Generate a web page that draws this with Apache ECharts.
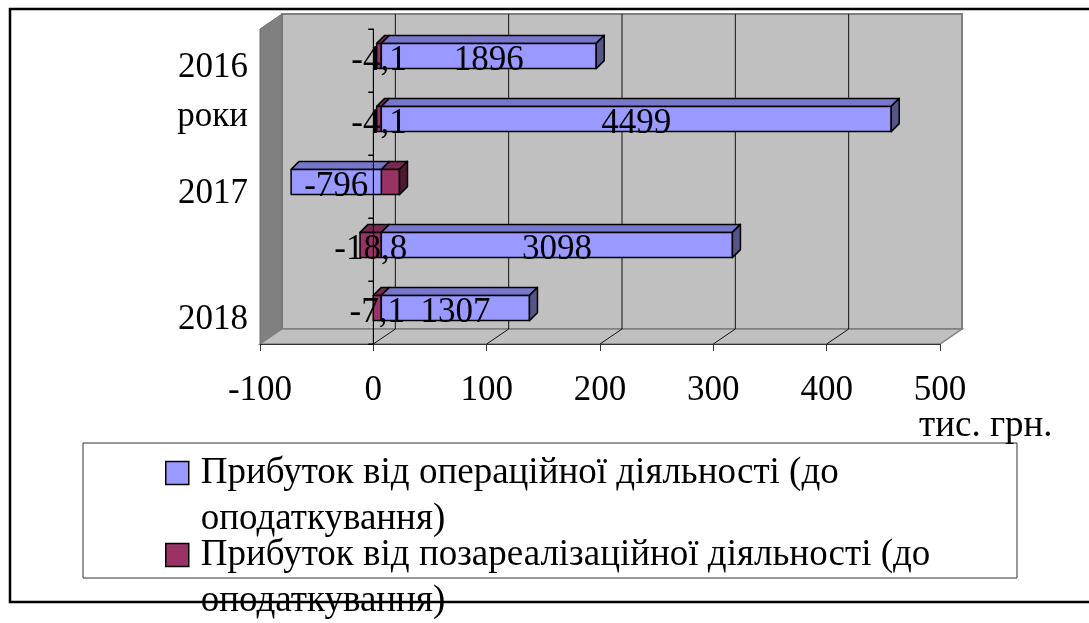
<!DOCTYPE html>
<html>
<head>
<meta charset="utf-8">
<script src="https://cdn.jsdelivr.net/npm/echarts@6/dist/echarts.min.js"></script>
<style>
  html, body { margin: 0; padding: 0; background: #fff; }
  #chart { width: 1089px; height: 623px; }
</style>
</head>
<body>
<div id="chart"></div>
<script>
// Category rows, top to bottom
const categories = ['2016', 'роки', '2017', '', '2018'];
// Operating profit, in the units its labels use (tenths of the visible scale)
const operatingProfit = [1896, 4499, -796, 3098, 1307];
// Non-operating profit, on the visible scale
const nonOperatingProfit = [-4.1, -4.1, 16, -18.8, -7.1];
const nonOperatingLabelShown = [true, true, false, true, true];
// Visible value-axis ticks
const valueTicks = [-100, 0, 100, 200, 300, 400, 500];
const operatingScale = 10;
const seriesNames = [
  'Прибуток від операційної діяльності (до оподаткування)',
  'Прибуток від позареалізаційної діяльності (до оподаткування)'
];
const valueAxisName = 'тис. грн.';

const FONT_FAMILY = '"Liberation Serif", "Times New Roman", serif';
const FONT = '35px ' + FONT_FAMILY;

// pseudo-3D geometry
const WALL_DEPTH = [22, -15];
const FACE_SHIFT = [8, -4.5];
const EXTRUDE = [8, -8];
const BAR_RATIO = 0.4;

const tickStep = valueTicks[1] - valueTicks[0];
const lo = valueTicks[0];
const hi = valueTicks[valueTicks.length - 1];

function makeBarRenderer(faceColor, topColor, sideColor, labelFor) {
  return function (params, api) {
    const v = api.value(0);
    const i = api.value(1);
    const base = api.coord([0, i]);
    const end = api.coord([v, i]);
    const band = api.size([0, 1])[1];
    const h = band * BAR_RATIO;
    const xl = Math.min(base[0], end[0]) + FACE_SHIFT[0];
    const xr = Math.max(base[0], end[0]) + FACE_SHIFT[0];
    const yc = base[1] + FACE_SHIFT[1];
    const yt = yc - h / 2;
    const yb = yc + h / 2;
    const dx = EXTRUDE[0], dy = EXTRUDE[1];
    const edge = { stroke: '#000', lineWidth: 1.5, lineJoin: 'round' };
    const children = [
      {
        type: 'polygon',
        shape: { points: [[xl, yt], [xr, yt], [xr + dx, yt + dy], [xl + dx, yt + dy]] },
        style: Object.assign({ fill: topColor }, edge)
      },
      {
        type: 'rect',
        shape: { x: xl, y: yt, width: xr - xl, height: h },
        style: Object.assign({ fill: faceColor }, edge)
      }
    ];
    if (v > 0) {
      children.push({
        type: 'polygon',
        shape: { points: [[xr, yt], [xr + dx, yt + dy], [xr + dx, yb + dy], [xr, yb]] },
        style: Object.assign({ fill: sideColor }, edge)
      });
    }
    const text = labelFor(params.dataIndex, v);
    if (text) {
      children.push({
        type: 'text',
        z2: 100,
        style: {
          text: text,
          x: (xl + xr) / 2,
          y: base[1] + 0.5,
          align: 'center',
          verticalAlign: 'middle',
          font: FONT,
          fill: '#000'
        }
      });
    }
    return { type: 'group', children: children };
  };
}

function renderWalls(params, api) {
  const n = categories.length;
  const band = api.size([0, 1])[1];
  const top = api.coord([lo, 0])[1] - band / 2;
  const bottom = api.coord([lo, n - 1])[1] + band / 2;
  const left = api.coord([lo, 0])[0];
  const right = api.coord([hi, 0])[0];
  const dx = WALL_DEPTH[0], dy = WALL_DEPTH[1];
  const children = [
    {
      type: 'rect',
      shape: { x: left + dx, y: top + dy, width: right - left, height: bottom - top },
      style: { fill: '#c0c0c0', stroke: '#808080', lineWidth: 2 }
    },
    {
      type: 'polygon',
      shape: { points: [[left, top], [left + dx, top + dy], [left + dx, bottom + dy], [left, bottom]] },
      style: { fill: '#808080', stroke: '#6e6e6e', lineWidth: 1 }
    },
    {
      type: 'polygon',
      shape: { points: [[left, bottom], [left + dx, bottom + dy], [right + dx, bottom + dy], [right, bottom]] },
      style: { fill: '#c0c0c0', stroke: '#808080', lineWidth: 1.5 }
    }
  ];
  valueTicks.forEach(function (t, k) {
    const x = api.coord([t, 0])[0];
    if (k > 0 && k < valueTicks.length - 1) {
      children.push({
        type: 'line',
        shape: { x1: x + dx, y1: top + dy, x2: x + dx, y2: bottom + dy },
        style: { stroke: '#111', lineWidth: 1 }
      });
      children.push({
        type: 'line',
        shape: { x1: x, y1: bottom, x2: x + dx, y2: bottom + dy },
        style: { stroke: '#111', lineWidth: 1 }
      });
    }
  });
  return { type: 'group', children: children };
}

// category axis drawn where the value is zero
function renderZeroAxis(params, api) {
  const n = categories.length;
  const band = api.size([0, 1])[1];
  const x = api.coord([0, 0])[0];
  const top = api.coord([0, 0])[1] - band / 2;
  const children = [{
    type: 'line', z2: 50,
    shape: { x1: x, y1: top, x2: x, y2: top + band * n },
    style: { stroke: '#000', lineWidth: 1 }
  }];
  for (let k = 0; k <= n; k++) {
    const y = top + band * k;
    children.push({
      type: 'line', z2: 50,
      shape: { x1: x - 5, y1: y, x2: x, y2: y },
      style: { stroke: '#000', lineWidth: 1 }
    });
  }
  return { type: 'group', children: children };
}

const chart = echarts.init(document.getElementById('chart'), null, { renderer: 'canvas' });

chart.setOption({
  animation: false,
  backgroundColor: '#fff',
  grid: {
    left: 260, top: 29, width: 680, height: 315,
    containLabel: false, outerBoundsMode: 'none'
  },
  xAxis: [
    {
      type: 'value',
      min: lo, max: hi, interval: tickStep,
      position: 'bottom',
      z: 3,
      name: valueAxisName,
      nameLocation: 'end',
      nameGap: -21,
      nameMoveOverlap: false,
      nameTextStyle: {
        fontFamily: FONT_FAMILY, fontSize: 37, color: '#000',
        align: 'left', verticalAlign: 'top', lineHeight: 37, padding: [64, 0, 0, 0]
      },
      axisLine: { show: true, lineStyle: { color: '#333', width: 1 } },
      axisTick: { show: true, length: 7, lineStyle: { color: '#333' } },
      axisLabel: { fontFamily: FONT_FAMILY, fontSize: 35, color: '#000', margin: 29 },
      splitLine: { show: false }
    },
    {
      type: 'value',
      show: false,
      min: lo * operatingScale, max: hi * operatingScale, interval: tickStep * operatingScale,
      splitLine: { show: false }
    }
  ],
  yAxis: {
    type: 'category',
    data: categories,
    inverse: true,
    z: 3,
    axisLine: { show: true, lineStyle: { color: '#000', width: 1 } },
    axisTick: { show: true, length: 5, lineStyle: { color: '#000' } },
    axisLabel: {
      interval: 0,
      fontFamily: FONT_FAMILY, fontSize: 35, color: '#000',
      margin: 12, lineHeight: 14,
      // years sit a little below the row centre, the axis title a little above
      formatter: function (v) { return /\d/.test(v) ? '\n' + v : v + '\n'; }
    },
    splitLine: { show: false }
  },
  legend: {
    data: seriesNames,
    orient: 'vertical',
    left: 165,
    top: 404,
    height: 400,
    padding: 0,
    itemGap: -56,
    itemWidth: 23,
    itemHeight: 23,
    icon: 'rect',
    selectedMode: false,
    itemStyle: { borderColor: '#000', borderWidth: 1.5 },
    // first line of each entry sits level with its swatch
    formatter: function (name) { return '\n' + name.replace(' (до ', ' (до\n'); },
    textStyle: {
      fontFamily: FONT_FAMILY, fontSize: 37, color: '#000',
      lineHeight: 46, padding: [0, 0, 0, 7]
    }
  },
  graphic: [
    {
      type: 'rect', silent: true, z: 0,
      shape: { x: 83, y: 443, width: 934, height: 135 },
      style: { fill: 'none', stroke: '#333', lineWidth: 1 }
    },
    {
      type: 'polyline', silent: true, z: 10,
      shape: { points: [[1089, 9], [10, 9], [10, 602], [1089, 602]] },
      style: { fill: 'none', stroke: '#000', lineWidth: 2.5 }
    }
  ],
  series: [
    {
      type: 'custom',
      name: 'walls',
      silent: true,
      z: 1,
      xAxisIndex: 0,
      renderItem: renderWalls,
      data: [[0, 0]],
      encode: { x: 0, y: 1 }
    },
    {
      type: 'custom',
      name: seriesNames[1],
      z: 2,
      xAxisIndex: 0,
      itemStyle: { color: '#993366' },
      renderItem: makeBarRenderer('#993366', '#7a2952', '#4d1a33', function (i, v) {
        return nonOperatingLabelShown[i] ? String(v).replace('.', ',') : '';
      }),
      data: nonOperatingProfit.map(function (v, i) { return [v, i]; }),
      encode: { x: 0, y: 1 }
    },
    {
      type: 'custom',
      name: seriesNames[0],
      z: 2,
      xAxisIndex: 1,
      itemStyle: { color: '#9999ff' },
      renderItem: makeBarRenderer('#9999ff', '#7777cc', '#555588', function (i, v) {
        return String(v);
      }),
      data: operatingProfit.map(function (v, i) { return [v, i]; }),
      encode: { x: 0, y: 1 }
    },
    {
      type: 'custom',
      name: 'zeroAxis',
      silent: true,
      z: 2,
      xAxisIndex: 0,
      renderItem: renderZeroAxis,
      data: [[0, 0]],
      encode: { x: 0, y: 1 }
    }
  ]
});
</script>
</body>
</html>
